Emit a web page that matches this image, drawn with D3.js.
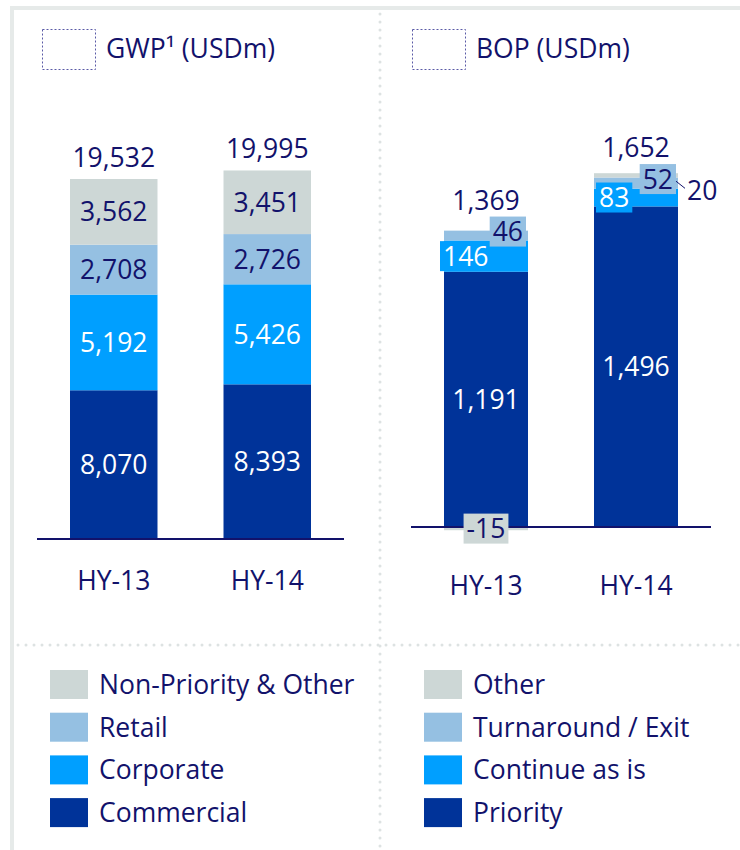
<!DOCTYPE html>
<html>
<head>
<meta charset="utf-8">
<script src="https://cdn.jsdelivr.net/npm/d3@7"></script>
<style>
  body { margin: 0; background: #fff; }
  text { font-family: "Open Sans", sans-serif; font-size: 26.5px; }
</style>
</head>
<body>
<div id="chart"></div>
<script>
// data
const categories = ["HY-13", "HY-14"];

const gwpSeries = ["Commercial", "Corporate", "Retail", "Non-Priority & Other"];
const gwpCommercial = [8070, 8393];
const gwpCorporate = [5192, 5426];
const gwpRetail = [2708, 2726];
const gwpNonPriority = [3562, 3451];
const gwpTotals = [19532, 19995];

const bopSeries = ["Priority", "Continue as is", "Turnaround / Exit", "Other"];
const bopPriority = [1191, 1496];
const bopContinue = [146, 83];
const bopTurnaround = [46, 52];
const bopOther = [-15, 20];
const bopTotals = [1369, 1652];

const colors = ["#003399", "#009fff", "#95c0e2", "#cdd7d6"];
const navy = "#12126b";
const fmt = (v) => d3.format(",")(v).replace("\u2212", "-");

const W = 740, H = 850;
const svg = d3
  .select("#chart")
  .append("svg")
  .attr("width", W)
  .attr("height", H);

//////////////////////// frame & separators ////////////////////////
svg.append("rect").attr("x", 10).attr("y", 6).attr("width", W - 10).attr("height", 4).attr("fill", "#e6eae9");
svg.append("rect").attr("x", 10).attr("y", 6).attr("width", 4).attr("height", H - 6).attr("fill", "#e6eae9");

const dotted = (x1, y1, x2, y2) =>
  svg
    .append("line")
    .attr("x1", x1).attr("y1", y1).attr("x2", x2).attr("y2", y2)
    .attr("stroke", "#dde2e2")
    .attr("stroke-width", 3)
    .attr("stroke-linecap", "round")
    .attr("stroke-dasharray", "0,8");
dotted(380, 14, 380, H);
dotted(18, 645, W, 645);

//////////////////////// titles ////////////////////////
function title(x, label) {
  svg
    .append("rect")
    .attr("x", x + 0.5).attr("y", 29.5).attr("width", 53).attr("height", 40)
    .attr("fill", "none")
    .attr("stroke", "#5a5aa6")
    .attr("stroke-width", 1)
    .attr("stroke-dasharray", "2,2");
  svg
    .append("text")
    .attr("x", x + 64).attr("y", 58)
    .attr("fill", navy)
    .text(label);
}
title(42, "GWP\u00b9 (USDm)");
title(412, "BOP (USDm)");

//////////////////////// stacking helper ////////////////////////
function stackRows(seriesArrays) {
  // returns per category list of {series, value, y0, y1}
  return categories.map((c, ci) => {
    let pos = 0, neg = 0;
    return seriesArrays.map((arr, si) => {
      const v = arr[ci];
      let y0, y1;
      if (v >= 0) { y0 = pos; y1 = pos + v; pos = y1; }
      else { y0 = neg + v; y1 = neg; neg = y0; }
      return { cat: c, ci, si, value: v, y0, y1 };
    });
  });
}

//////////////////////// GWP chart ////////////////////////
const xL = d3.scaleBand().domain(categories).range([37, 344]).paddingInner(0.43).paddingOuter(0.215);
const yL = d3.scaleLinear().domain([0, 20000]).range([539, 170.4]);

const gwpStack = stackRows([gwpCommercial, gwpCorporate, gwpRetail, gwpNonPriority]).flat();

svg
  .selectAll(".gwpBar")
  .data(gwpStack)
  .enter()
  .append("rect")
  .attr("class", "gwpBar")
  .attr("x", (d) => xL(d.cat))
  .attr("width", xL.bandwidth())
  .attr("y", (d) => yL(d.y1))
  .attr("height", (d) => yL(d.y0) - yL(d.y1))
  .attr("fill", (d) => colors[d.si]);

svg
  .selectAll(".gwpLabel")
  .data(gwpStack)
  .enter()
  .append("text")
  .attr("class", "gwpLabel")
  .attr("x", (d) => xL(d.cat) + xL.bandwidth() / 2)
  .attr("y", (d) => (yL(d.y0) + yL(d.y1)) / 2)
  .attr("dy", "0.36em")
  .attr("text-anchor", "middle")
  .attr("fill", (d) => (d.si < 2 ? "#fff" : navy))
  .text((d) => fmt(d.value));

svg
  .selectAll(".gwpTotal")
  .data(gwpTotals)
  .enter()
  .append("text")
  .attr("class", "gwpTotal")
  .attr("x", (d, i) => xL(categories[i]) + xL.bandwidth() / 2)
  .attr("y", (d) => yL(d) - 12)
  .attr("text-anchor", "middle")
  .attr("fill", navy)
  .text((d) => fmt(d));

svg.append("line").attr("x1", 37).attr("x2", 344).attr("y1", 539).attr("y2", 539).attr("stroke", navy).attr("stroke-width", 2);

svg
  .selectAll(".gwpTick")
  .data(categories)
  .enter()
  .append("text")
  .attr("x", (d) => xL(d) + xL.bandwidth() / 2)
  .attr("y", 590)
  .attr("text-anchor", "middle")
  .attr("fill", navy)
  .text((d) => d);

//////////////////////// BOP chart ////////////////////////
const xR = d3.scaleBand().domain(categories).range([411, 711]).paddingInner(0.44).paddingOuter(0.22);
const yR = d3.scaleLinear().domain([0, 1700]).range([527, 162.7]);

const bopStack = stackRows([bopPriority, bopContinue, bopTurnaround, bopOther]).flat();

svg
  .selectAll(".bopBar")
  .data(bopStack)
  .enter()
  .append("rect")
  .attr("class", "bopBar")
  .attr("x", (d) => xR(d.cat))
  .attr("width", xR.bandwidth())
  .attr("y", (d) => yR(d.y1))
  .attr("height", (d) => yR(d.y0) - yR(d.y1))
  .attr("fill", (d) => colors[d.si]);

svg.append("line").attr("x1", 411).attr("x2", 711).attr("y1", 527).attr("y2", 527).attr("stroke", navy).attr("stroke-width", 2);

// label placement for the small segments (boxed labels)
const bopPlace = {
  "0-0": { anchor: "center", dy: 0 },
  "0-1": { anchor: "left", dx: -4, dy: 0, box: true },
  "0-2": { anchor: "right", dx: -2, dy: -4, box: true },
  "0-3": { anchor: "center", dx: 0, dy: 0, box: true },
  "1-0": { anchor: "center", dy: 0 },
  "1-1": { anchor: "left", dx: 2, dy: 0, box: true },
  "1-2": { anchor: "right", dx: -2, dy: -4, box: true },
  "1-3": { anchor: "outside", dx: 6, dy: 15 }
};

const topBox = categories.map((c, i) => yR(bopTotals[i]));

bopStack.forEach((d) => {
  const p = bopPlace[d.ci + "-" + d.si];
  const left = xR(d.cat), right = left + xR.bandwidth();
  const cy = (yR(d.y0) + yR(d.y1)) / 2 + (p.dy || 0);
  const g = svg.append("g");
  const t = g
    .append("text")
    .attr("fill", d.si < 2 ? "#fff" : navy)
    .attr("dy", "0.36em")
    .attr("y", cy)
    .text(fmt(d.value));
  const tw = t.node().getComputedTextLength();
  const bw = tw + 6, bh = 30;
  let bx;
  if (p.anchor === "left") bx = left + p.dx;
  else if (p.anchor === "right") bx = right + p.dx - bw;
  else if (p.anchor === "outside") bx = right + p.dx;
  else bx = (left + right) / 2 - bw / 2;
  t.attr("x", bx + 3);
  if (p.box) {
    g.insert("rect", "text")
      .attr("x", bx).attr("y", cy - bh / 2)
      .attr("width", bw).attr("height", bh)
      .attr("fill", colors[d.si]);
    if (d.value > 0) topBox[d.ci] = Math.min(topBox[d.ci], cy - bh / 2);
  }
  if (p.anchor === "outside") {
    g.append("line")
      .attr("x1", right - 2).attr("y1", yR(d.y1) + 8)
      .attr("x2", bx + 1).attr("y2", cy - 2)
      .attr("stroke", navy).attr("stroke-width", 1);
  }
});

svg
  .selectAll(".bopTotal")
  .data(bopTotals)
  .enter()
  .append("text")
  .attr("x", (d, i) => xR(categories[i]) + xR.bandwidth() / 2)
  .attr("y", (d, i) => topBox[i] - 7)
  .attr("text-anchor", "middle")
  .attr("fill", navy)
  .text((d) => fmt(d));

svg
  .selectAll(".bopTick")
  .data(categories)
  .enter()
  .append("text")
  .attr("x", (d) => xR(d) + xR.bandwidth() / 2)
  .attr("y", 595)
  .attr("text-anchor", "middle")
  .attr("fill", navy)
  .text((d) => d);

//////////////////////// legends ////////////////////////
function legend(x, names) {
  const order = [3, 2, 1, 0];
  const g = svg.append("g");
  order.forEach((si, k) => {
    g.append("rect")
      .attr("x", x).attr("y", 670 + k * 42.7)
      .attr("width", 38).attr("height", 29)
      .attr("fill", colors[si]);
    g.append("text")
      .attr("x", x + 49).attr("y", 670 + k * 42.7 + 14.5)
      .attr("dy", "0.36em")
      .attr("fill", navy)
      .text(names[si]);
  });
}
legend(50, gwpSeries);
legend(424, bopSeries);
</script>
</body>
</html>
